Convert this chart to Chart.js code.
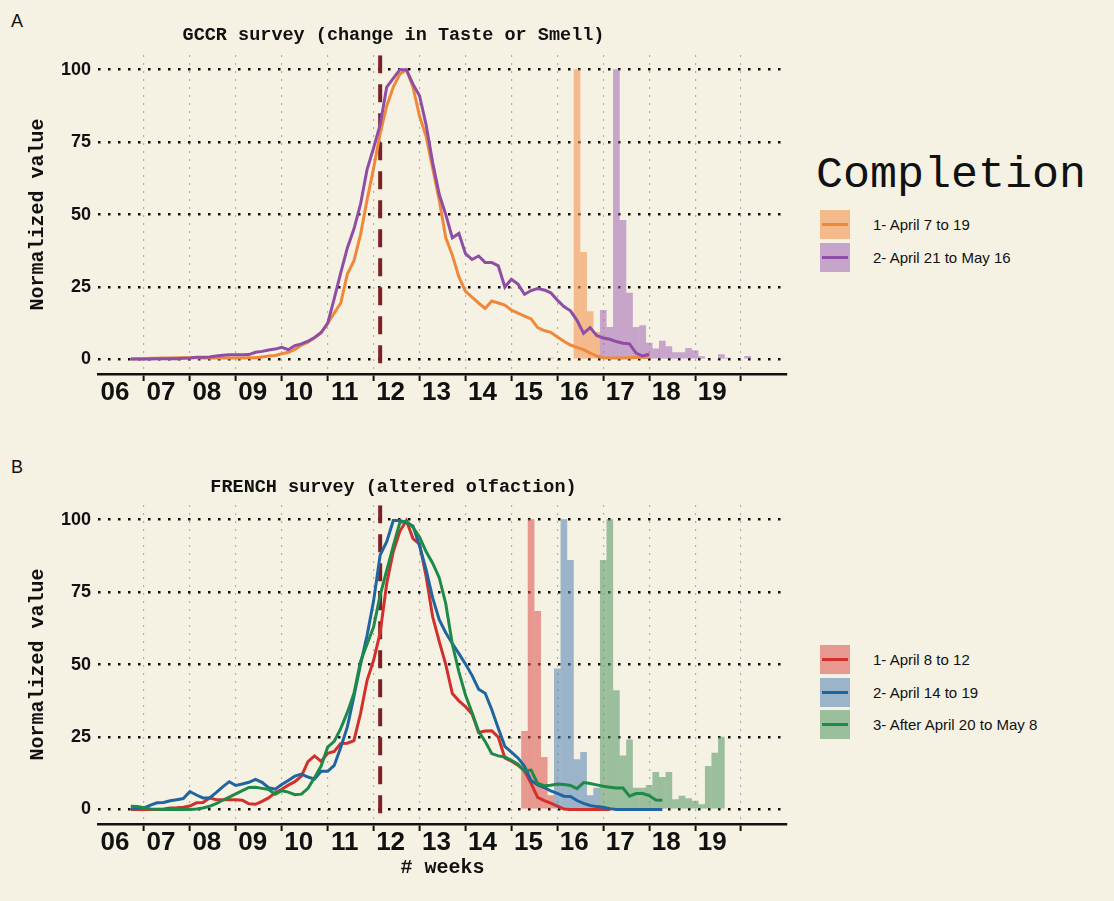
<!DOCTYPE html>
<html>
<head>
<meta charset="utf-8">
<script src="https://cdn.jsdelivr.net/npm/chart.js@4.4.1/dist/chart.umd.min.js"></script>
<style>
  body { margin: 0; background: #f5f1e3; }
  #page { position: relative; width: 1114px; height: 901px; background: #f5f1e3; font-family: "Liberation Sans", Arial, sans-serif; color: #111; }
  .panel { position: absolute; left: 0; width: 800px; height: 450px; }
  .tag { position: absolute; left: 11px; font-size: 18px; line-height: 1; }
  .legend-title { position: absolute; left: 816px; top: 153px; font-family: "Liberation Mono", "Courier New", monospace; font-size: 45px; line-height: 1; }
  .item { position: absolute; left: 820px; height: 29px; display: flex; align-items: center; font-size: 15px; }
  .swatch { position: relative; width: 30px; height: 29px; margin-right: 23px; }
  .swatch span { position: absolute; left: 2px; right: 2px; top: 13px; height: 3px; }
</style>
</head>
<body>
<div id="page">
  <div class="tag" style="top:12px">A</div>
  <div class="tag" style="top:458px">B</div>
  <div class="panel" style="top:0"><canvas id="gccr" width="800" height="450"></canvas></div>
  <div class="panel" style="top:450px"><canvas id="french" width="800" height="450"></canvas></div>

  <div class="legend-title">Completion</div>
  <div id="legend-gccr"></div>
  <div id="legend-french"></div>
</div>

<script>
// x axis is in days: week N starts at day N*7
var weekTicks = [42, 49, 56, 63, 70, 77, 84, 91, 98, 105, 112, 119, 126, 133, 140];
var weekLabels = ['06','07','08','09','10','11','12','13','14','15','16','17','18','19',''];
var yTicks = [0, 25, 50, 75, 100];
var lockdownDay = 85;

// panel A - GCCR survey, daily normalized counts
var gccrDays = [47,48,49,50,51,52,53,54,55,56,57,58,59,60,61,62,63,64,65,66,67,68,69,70,71,72,73,74,75,76,
  77,78,79,80,81,82,83,84,85,86,87,88,89,90,91,92,93,94,95,96,97,98,99,100,101,102,103,104,105,106,
  107,108,109,110,111,112,113,114,115,116,117,118,119,120,121,122,123,124,125,126];
var gccrWave1 = [0.2,0.3,0.3,0.4,0.4,0.5,0.5,0.6,0.6,0.6,0.6,0.5,0.5,0.5,0.5,0.5,0.5,0.5,0.6,0.6,
  0.9,1.2,1.4,2.0,2.5,3.5,5.0,6.0,7.5,9.2,12.5,16,19.5,29.5,34,43,55,66,78,87.5,
  94,98.5,100,94,84,77,66,55,42,36,28.5,23.5,21.5,19.5,17.6,20.2,19.5,18.8,17.0,16.0,
  15.0,14.0,11,10,9.4,7.8,6.3,5.0,4.2,3.4,2.2,1.2,0.6,0.5,0.5,0.5,0.6,0.7,0.8,0.8];
var gccrWave2 = [0.2,0.2,0.2,0.2,0.3,0.3,0.3,0.3,0.4,0.5,0.8,0.8,0.9,1.2,1.5,1.6,1.6,1.6,1.7,2.5,
  2.8,3.3,3.6,4.2,3.4,4.8,5.4,6.3,7.6,9.3,12.5,21,30,38.5,45,53.5,65.5,73,81,94,
  97,100,100,95,91,81,68,57,50,42,43.5,36.5,34.5,35.7,33.5,33.5,32.3,25,27.7,26,
  22.5,23.8,24.5,24,23,20.5,18.3,16.8,13.5,9,11,8.3,7.4,7.0,6.2,5.6,5.4,2.2,1.2,1.8];
var gccrWave1BarDays = [111, 115, 116, 117, 118];
var gccrWave1Bars = [0.6, 100, 37, 16.5, 9.4];
var gccrWave2BarDays = [119,120,121,122,123,124,125,126,127,128,129,130,131,132,133,134,137,138,141];
var gccrWave2Bars = [17, 11.1, 100, 48, 22.9, 11.1, 11.7, 5.7, 3.7, 6.4, 4.5, 2.4, 2.4, 3.9, 3.1, 1.0, 1.7, 0.5, 1.1];

// panel B - French survey
var frenchDays = [47,48,49,50,51,52,53,54,55,56,57,58,59,60,61,62,63,64,65,66,67,68,69,70,71,72,73,74,75,76,
  77,78,79,80,81,82,83,84,85,86,87,88,89,90,91,92,93,94,95,96,97,98,99,100,101,102,103,104,105,106,
  107,108,109,110,111,112,113,114,115,116,117,118,119,120,121,122,123,124,125,126,127,128];
var frenchWave1 = [0,0,0,0,0,0.2,0.5,0.6,0.8,1.2,2.3,2.4,4.0,3.4,3.4,3.4,3.4,3.2,2.0,1.8,
  2.8,4.0,5.8,7.0,8.4,9.6,11.5,16.5,18.5,16.6,19.4,20,22.8,22.9,23.8,33,44.5,51.5,61,78,
  89,96,99.7,93.5,91.6,80.5,66.5,58,50,40,37.5,35.5,33,26.6,27.1,27.2,25,17.8,16.7,15.3,
  13.3,9,4.2,3.1,2.2,1.2,0.2,0,0,0,0,0,0,0];
var frenchWave2 = [0.2,0.4,0.6,1.5,2.3,2.4,3.0,3.4,3.8,6.2,5.0,4.0,4.0,5.8,7.8,9.6,8.3,8.8,9.4,10.4,
  9.4,7.5,7.0,8.6,10,11.5,12.2,11.2,10.5,13.2,13.2,15.2,21.5,28.5,39,50,60,72,87.8,92.4,
  99.7,99.7,99,97.8,91,82.8,73,65.5,61,57.3,53.8,50.2,46.3,41.5,40.1,34.5,28,21.8,19.8,17.8,
  14.9,10,8.5,7.6,6.4,5.6,4.6,4.5,3.1,2.1,1.4,1.0,0.8,0.3,0,0,0,0,0,0,0,0];
var frenchWave3 = [1.1,1.0,0.6,0.2,0.1,0,0,0,0,0,0.2,0.5,1.1,2.0,3.2,4.3,5.4,6.5,7.6,7.7,
  7.3,6.9,5.3,6.5,6.0,5.1,5.3,7.3,11,15,21.5,23.5,28,33.5,40,51,57,63,74,82.5,
  91,99,99.5,97.4,94,89,85,80,71,57,47.5,39.5,33.5,27,23.5,19.3,18.5,18.1,17,15.6,
  13.3,13.6,9,8.2,8.4,8.8,8.6,8.3,7.2,9.3,9.0,8.5,8.0,7.7,7.4,7.4,4.6,5.5,5.5,4.8,3.3,3.2];
var frenchWave1BarDays = [107, 108, 109, 110, 111];
var frenchWave1Bars = [27, 100, 68.4, 18, 4.8];
var frenchWave2BarDays = [112, 113, 114, 115, 116, 117, 118];
var frenchWave2Bars = [48.5, 100, 86, 17.2, 19.7, 4.8, 7.4];
var frenchWave3BarDays = [119,120,121,122,123,124,125,126,127,128,129,130,131,132,133,134,135,136,137];
var frenchWave3Bars = [86, 100, 41, 18.5, 24, 7.4, 7.4, 8.3, 12.8, 11.1, 12.8, 3.4, 4.6, 3.8, 2.9, 1.7, 14.9, 19.5, 25];

var mono = '"Liberation Mono", "Courier New", monospace';
var sans = '"Liberation Sans", Arial, sans-serif';

var colors = {
    orange: ['#f0883a', 'rgba(244,150,80,0.6)'],
    purple: ['#8e4ea6', 'rgba(160,100,180,0.55)'],
    red: ['#d2302c', 'rgba(220,80,75,0.55)'],
    blue: ['#1f66a0', 'rgba(80,130,180,0.55)'],
    green: ['#1e8a48', 'rgba(80,150,100,0.55)']
};

function points(xs, ys) {
    return xs.map(function(x, i) { return {x: x, y: ys[i]}; });
}

function lineSet(label, xs, ys, color, order) {
    return {type: 'line', label: label, data: points(xs, ys), borderColor: color, borderWidth: 3,
        pointRadius: 0, tension: 0, fill: false, order: order};
}

function barSet(label, xs, ys, color) {
    return {type: 'bar', label: label, data: points(xs, ys), backgroundColor: color,
        barThickness: 6, grouped: false, order: 10};
}

function lockdownSet() {
    return {type: 'line', data: [{x: lockdownDay, y: 105}, {x: lockdownDay, y: -5}], borderColor: '#7a2226',
        borderWidth: 4, borderDash: [18, 11], pointRadius: 0, order: 20};
}

function renderPanel(ctx, title, titleTop, datasets, showXTitle) {
    return new Chart(ctx, {
        type: 'line',
        data: {datasets: datasets},
        options: {
            responsive: false,
            animation: false,
            events: [],
            layout: {padding: {left: 0, right: 13, top: 0, bottom: 0}},
            plugins: {
                legend: {display: false},
                tooltip: {enabled: false},
                title: {
                    display: true, text: title, color: '#111',
                    font: {family: mono, size: 18.5, weight: 'bold', lineHeight: 1.2},
                    padding: {top: titleTop, bottom: 33 - titleTop}
                }
            },
            scales: {
                x: {
                    // bar datasets would otherwise switch offset on
                    type: 'linear', min: 42, max: 147, offset: false,
                    afterBuildTicks: function(axis) { axis.ticks = weekTicks.map(function(v) { return {value: v}; }); },
                    afterFit: function(axis) { axis.height = 76; },
                    ticks: {
                        autoSkip: false, maxRotation: 0, labelOffset: 17, padding: -1, color: '#111',
                        font: {family: sans, size: 26, weight: 'bold', lineHeight: 1},
                        callback: function(v, i) { return weekLabels[i]; }
                    },
                    grid: {
                        offset: false,
                        color: function(c) { return c.tick && c.tick.value === 42 ? 'rgba(0,0,0,0)' : '#9b9b9b'; },
                        lineWidth: 1.2,
                        tickColor: function(c) { return c.tick && c.tick.value === 42 ? 'rgba(0,0,0,0)' : '#111'; },
                        tickWidth: 2, tickLength: 7, tickBorderDash: []
                    },
                    border: {display: true, color: '#111', width: 2.5, dash: [1.5, 6.5]},
                    title: {
                        display: showXTitle, text: '# weeks', color: '#111',
                        font: {family: mono, size: 20, weight: 'bold', lineHeight: 1.2},
                        padding: {top: 0, bottom: 20}
                    }
                },
                y: {
                    min: -5, max: 105,
                    afterBuildTicks: function(axis) { axis.ticks = yTicks.map(function(v) { return {value: v}; }); },
                    afterFit: function(axis) { axis.width = 98; },
                    ticks: {padding: 7, color: '#111', font: {family: sans, size: 18, weight: 'bold'}},
                    grid: {color: '#111', lineWidth: 2.5, drawTicks: false},
                    border: {display: false, dash: [2.5, 7.5]},
                    title: {
                        display: true, text: 'Normalized value', color: '#111',
                        font: {family: mono, size: 20, weight: 'bold', lineHeight: 1.2},
                        padding: {top: 26, bottom: 0}
                    }
                }
            }
        }
    });
}

renderPanel(document.getElementById('gccr'), 'GCCR survey (change in Taste or Smell)', 24, [
    lineSet('2- April 21 to May 16', gccrDays, gccrWave2, colors.purple[0], 0),
    lineSet('1- April 7 to 19', gccrDays, gccrWave1, colors.orange[0], 1),
    barSet('1- April 7 to 19', gccrWave1BarDays, gccrWave1Bars, colors.orange[1]),
    barSet('2- April 21 to May 16', gccrWave2BarDays, gccrWave2Bars, colors.purple[1]),
    lockdownSet()
], false);

renderPanel(document.getElementById('french'), 'FRENCH survey (altered olfaction)', 26, [
    lineSet('3- After April 20 to May 8', frenchDays, frenchWave3, colors.green[0], 0),
    lineSet('2- April 14 to 19', frenchDays, frenchWave2, colors.blue[0], 1),
    lineSet('1- April 8 to 12', frenchDays.slice(0, frenchWave1.length), frenchWave1, colors.red[0], 2),
    barSet('1- April 8 to 12', frenchWave1BarDays, frenchWave1Bars, colors.red[1]),
    barSet('2- April 14 to 19', frenchWave2BarDays, frenchWave2Bars, colors.blue[1]),
    barSet('3- After April 20 to May 8', frenchWave3BarDays, frenchWave3Bars, colors.green[1]),
    lockdownSet()
], true);

// html legends
function legend(el, labels, keys, top, step) {
    labels.forEach(function(label, i) {
        var row = document.createElement('div');
        row.className = 'item';
        row.style.top = (top + i * step) + 'px';
        var sw = document.createElement('div');
        sw.className = 'swatch';
        sw.style.background = colors[keys[i]][1];
        var ln = document.createElement('span');
        ln.style.background = colors[keys[i]][0];
        sw.appendChild(ln);
        var txt = document.createElement('div');
        txt.textContent = label;
        row.appendChild(sw);
        row.appendChild(txt);
        el.appendChild(row);
    });
}

legend(document.getElementById('legend-gccr'), ['1- April 7 to 19', '2- April 21 to May 16'], ['orange', 'purple'], 210, 32.7);
legend(document.getElementById('legend-french'), ['1- April 8 to 12', '2- April 14 to 19', '3- After April 20 to May 8'],
    ['red', 'blue', 'green'], 645, 32.5);
</script>
</body>
</html>
